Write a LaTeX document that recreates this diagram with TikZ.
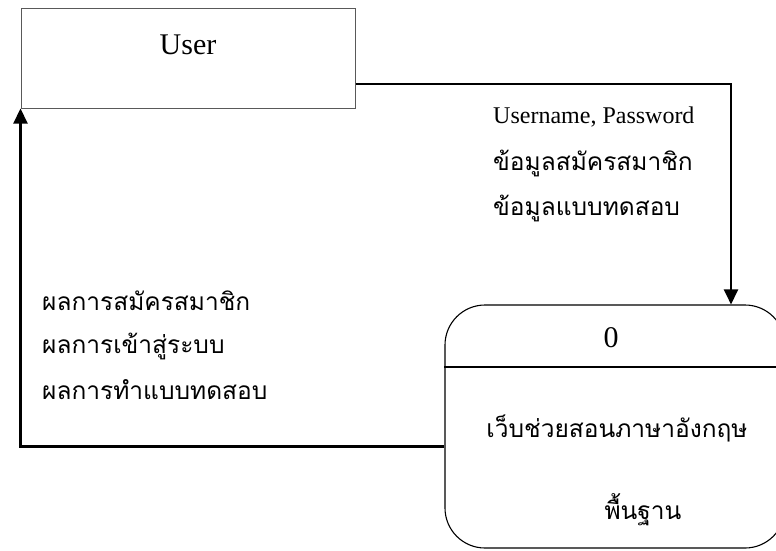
\documentclass[tikz,border=0pt]{standalone}
\usepackage{fontspec}
\setmainfont{Liberation Serif}
\newfontfamily\thaifont[Script=Thai]{Loma}
\usetikzlibrary{positioning,arrows.meta}

\begin{document}
\begin{tikzpicture}[x=1pt,y=-1pt,
        entitybox/.style={draw=black!65, line width=1pt, minimum width=334pt, minimum height=100pt},
        procbox/.style={draw=black, line width=1.1pt, rounded corners=40pt, minimum width=340pt, minimum height=243pt},
        bigtext/.style={font=\fontsize{30}{36}\selectfont, inner sep=0pt},
        flowlabel/.style={font=\fontsize{24}{28}\selectfont, anchor=west, inner sep=0pt},
        thailabel/.style={font=\thaifont\fontsize{24.5}{30}\selectfont, anchor=west, inner sep=0pt},
        flow/.style={line width=2.2pt, -{Triangle[length=15pt,width=14pt]}},
        ]

        \useasboundingbox (0,0) rectangle (776,550);

        % Nodes
        \node[entitybox] (user) at (188,58) {};
        \node[bigtext]   (usertext) at (188,45) {User};
        \node[procbox]   (proc) at (615,426.5) {};
        \node[bigtext]   (procid) at (611,338) {0};
        \node[thailabel, anchor=center] (procname) at (617,428) {เว็บช่วยสอนภาษาอังกฤษ};
        \node[thailabel, anchor=center] (procname2) at (643,510) {พื้นฐาน};

        \coordinate (divy) at (0,367);
        \draw[line width=1.4pt] (proc.west |- divy) -- (proc.east |- divy);

        % Flow labels
        \node[flowlabel] (login)  at (493,117) {Username, Password};
        \node[thailabel] (regdata) at (493,163) {ข้อมูลสมัครสมาชิก};
        \node[thailabel] (testdata) at (493,208) {ข้อมูลแบบทดสอบ};
        \node[thailabel] (regres)  at (42,301) {ผลการสมัครสมาชิก};
        \node[thailabel] (loginres) at (42,346) {ผลการเข้าสู่ระบบ};
        \node[thailabel] (testres) at (42,390) {ผลการทำแบบทดสอบ};

        \draw[flow] ([yshift=-26pt]user.east) -| ([xshift=116pt]proc.north);
        \draw[flow] ([yshift=-20pt]proc.west) -| (user.south west);

    \end{tikzpicture}
\end{document}
